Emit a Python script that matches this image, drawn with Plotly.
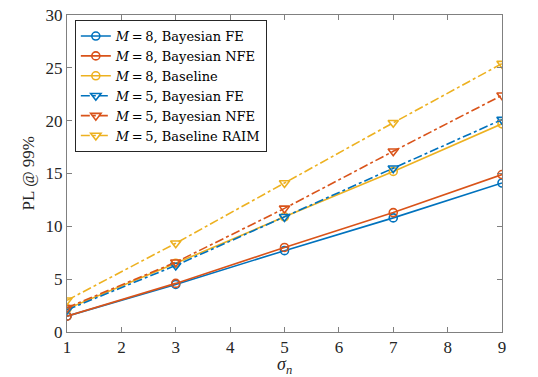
import plotly.graph_objects as go

sigma_n = [1, 3, 5, 7, 9]
m8_bayes_fe = [1.5, 4.5, 7.7, 10.8, 14.1]
m8_bayes_nfe = [1.5, 4.6, 8.0, 11.3, 14.9]
m8_baseline = [2.2, 6.5, 10.9, 15.2, 19.7]
m5_bayes_fe = [2.1, 6.3, 10.9, 15.5, 20.1]
m5_bayes_nfe = [2.3, 6.6, 11.7, 17.1, 22.4]
m5_baseline_raim = [3.0, 8.4, 14.1, 19.8, 25.4]

x_ticks = [1, 2, 3, 4, 5, 6, 7, 8, 9]
y_ticks = [0, 5, 10, 15, 20, 25, 30]

blue = "#0072BD"
red = "#D95319"
yellow = "#EDB120"

sp = "\u2009"
series = [
    (f"<i>M</i>{sp}={sp}8, Bayesian FE", m8_bayes_fe, blue, "solid", "circle-open"),
    (f"<i>M</i>{sp}={sp}8, Bayesian NFE", m8_bayes_nfe, red, "solid", "circle-open"),
    (f"<i>M</i>{sp}={sp}8, Baseline", m8_baseline, yellow, "solid", "circle-open"),
    (f"<i>M</i>{sp}={sp}5, Bayesian FE", m5_bayes_fe, blue, "dashdot", "triangle-down-open"),
    (f"<i>M</i>{sp}={sp}5, Bayesian NFE", m5_bayes_nfe, red, "dashdot", "triangle-down-open"),
    (f"<i>M</i>{sp}={sp}5, Baseline RAIM", m5_baseline_raim, yellow, "dashdot", "triangle-down-open"),
]

fig = go.Figure()
for name, ys, color, dash, sym in series:
    fig.add_trace(go.Scatter(
        x=sigma_n, y=ys, name=name, mode="lines+markers",
        line=dict(color=color, width=1.6, dash=dash),
        marker=dict(symbol=sym, size=8 if "circle" in sym else 9,
                    color=color, line=dict(color=color, width=1.6)),
    ))

font_family = "Liberation Serif"
axis_common = dict(
    showgrid=False, zeroline=False, showline=True, linecolor="#808080",
    linewidth=1, mirror="ticks", ticks="inside", ticklen=5, tickcolor="#808080",
    automargin=False, ticklabeloverflow="allow",
    tickfont=dict(family=font_family, size=17, color="#262626"),
)

fig.update_layout(
    width=530, height=369,
    margin=dict(l=59, r=36, t=7, b=45),
    paper_bgcolor="white", plot_bgcolor="white",
    font=dict(family=font_family, color="#262626"),
    xaxis=dict(range=[1, 9], tickvals=x_ticks, **axis_common),
    yaxis=dict(range=[0, 30], tickvals=y_ticks, **axis_common),
    legend=dict(x=0.018, y=0.984, xanchor="left", yanchor="top",
                bgcolor="white", bordercolor="#262626", borderwidth=1,
                font=dict(family="DejaVu Serif", size=13, color="#000000"),
                itemwidth=30, tracegroupgap=0),
    showlegend=True,
    annotations=[
        dict(text="<i>σ</i><sub><i>n</i></sub>", xref="paper", yref="paper",
             x=0.5, y=0, xanchor="center", yanchor="middle", yshift=-33,
             showarrow=False, font=dict(family=font_family, size=18, color="#262626")),
        dict(text="PL @ 99%", xref="paper", yref="paper", textangle=-90,
             x=0, y=0.5, xanchor="center", yanchor="middle", xshift=-39,
             showarrow=False, font=dict(family=font_family, size=17, color="#262626")),
    ],
)

fig.write_html("out.html")
